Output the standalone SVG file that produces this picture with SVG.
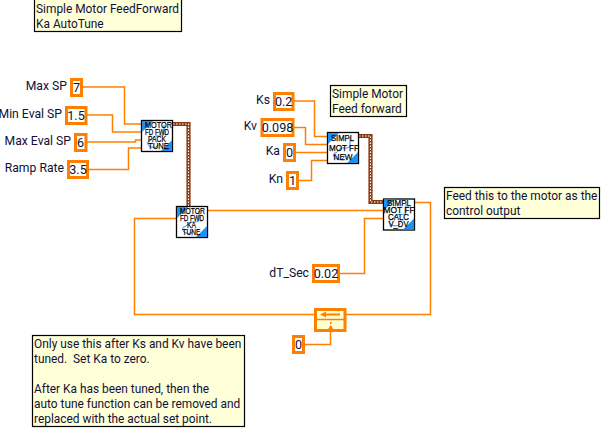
<svg xmlns="http://www.w3.org/2000/svg" width="613" height="430" viewBox="0 0 613 430">
<style>
text{font-family:Roboto,"Open Sans","Liberation Sans",sans-serif;font-size:11.9px;fill:#10103a}
.lbl{text-anchor:end;font-size:12.2px}
.val{text-anchor:middle;font-size:12.6px}
.c{fill:#fff;stroke:#ff8000;stroke-width:3}
.n{fill:#ffffd8;stroke:#000;stroke-width:1.2}
.w{fill:none;stroke:#ff8000;stroke-width:1.5}
.b1{fill:none;stroke:#8a3a10;stroke-width:4.2}
.b2{fill:none;stroke:#fff;stroke-width:1.2;stroke-dasharray:1.5 1.5}
.ic{fill:#fff;stroke:#000;stroke-width:1.3}
.cr{fill:#1e90f0}
.sq{fill:none;stroke:#1e90f0;stroke-width:1}
text.t{font-family:"Liberation Sans",sans-serif;font-size:9.6px;fill:#000;stroke:#000;stroke-width:.25}
</style>
<defs>
<g id="icon">
<rect class="ic" x="0.5" y="0.5" width="31" height="31"/>
<path class="cr" d="M1 1H12L1 12Z M31 31H20L31 20Z"/>
<path class="sq" d="M23 5V14C23 16 19 16 16 16C11 16 11 21 8 21C6 21 6 26 10 27C14 28 16 27 17 25"/>
</g>
</defs>
<g id="connectors">
<path class="w" d="M83 87H124.500V124H141"/>
<path class="w" d="M87 115H112.500V132H141"/>
<path class="w" d="M87 142H135.500V140H141"/>
<path class="w" d="M89 169.500H128.500V148H141"/>
<path class="w" d="M294 101H314.500V136.500H327"/>
<path class="w" d="M294 127.500H305.500V144.500H327"/>
<path class="w" d="M296 152.500H327"/>
<path class="w" d="M299 180.500H311.500V160.500H327"/>
<path class="w" d="M340 273.500H364.500V218.500H383"/>
<path class="w" d="M208 210.500H383"/>
<path class="w" d="M415 202.500H430.500V314.500H346"/>
<path class="w" d="M176 218.500H134.500V314.500H314"/>
<path class="w" d="M305 344.500H330.500V331"/>
<path class="b1" d="M173 124H188.500V206"/>
<path class="b2" d="M173 124H188.500V206"/>
<path class="b1" d="M359 136H370.500V202H383"/>
<path class="b2" d="M359 136H370.500V202H383"/>
</g>
<g id="note-title"><rect class="n" x="34.500" y="-2" width="147" height="33.500"/><text x="36" y="13">Simple Motor FeedForward</text><text x="36" y="28">Ka AutoTune</text></g>
<g id="note-ff"><rect class="n" x="330.500" y="85.500" width="76" height="31"/><text x="332" y="98">Simple Motor</text><text x="332" y="113">Feed forward</text></g>
<g id="note-output"><rect class="n" x="444.500" y="187.500" width="155" height="31"/><text x="446" y="200">Feed this to the motor as the</text><text x="446" y="215">control output</text></g>
<g id="note-usage"><rect class="n" x="32.500" y="335.500" width="212" height="91"/>
<text x="34" y="348">Only use this after Ks and Kv have been</text><text x="34" y="363" xml:space="preserve">tuned.  Set Ka to zero.</text><text x="34" y="393">After Ka has been tuned, then the</text><text x="34" y="408">auto tune function can be removed and</text><text x="34" y="423">replaced with the actual set point.</text></g>
<g id="c-maxsp"><text class="lbl" x="67" y="90">Max SP</text><rect class="c" x="71.500" y="79.500" width="10" height="16"/><text class="val" x="76.500" y="92">7</text></g>
<g id="c-minsp"><text class="lbl" x="62" y="118">Min Eval SP</text><rect class="c" x="66.500" y="107.500" width="19.500" height="16"/><text class="val" x="76" y="120">1.5</text></g>
<g id="c-maxeval"><text class="lbl" x="71" y="145">Max Eval SP</text><rect class="c" x="75.500" y="134.500" width="10.500" height="16"/><text class="val" x="80.500" y="147">6</text></g>
<g id="c-ramp"><text class="lbl" x="64" y="172">Ramp Rate</text><rect class="c" x="68.500" y="161.500" width="19" height="16"/><text class="val" x="78" y="174">3.5</text></g>
<g id="c-ks"><text class="lbl" x="270" y="104">Ks</text><rect class="c" x="274.500" y="93.500" width="18.500" height="16"/><text class="val" x="283.700" y="106">0.2</text></g>
<g id="c-kv"><text class="lbl" x="257" y="130">Kv</text><rect class="c" x="262" y="119.500" width="31" height="16"/><text class="val" x="277.500" y="132">0.098</text></g>
<g id="c-ka"><text class="lbl" x="280" y="155">Ka</text><rect class="c" x="284.500" y="144.500" width="10" height="16"/><text class="val" x="289.500" y="157">0</text></g>
<g id="c-kn"><text class="lbl" x="283" y="183">Kn</text><rect class="c" x="287.500" y="172.500" width="10" height="16"/><text class="val" x="292.500" y="185">1</text></g>
<g id="c-dt"><text class="lbl" x="309" y="277">dT_Sec</text><rect class="c" x="313.500" y="265.500" width="25" height="16"/><text class="val" x="326" y="278">0.02</text></g>
<g id="c-zero"><rect class="c" x="293.500" y="336.500" width="10" height="16"/><text class="val" x="298.500" y="349">0</text></g>
<g id="feedback">
<rect x="315.500" y="309.500" width="29.500" height="21" fill="#ffffd0" stroke="#ff8000" stroke-width="3"/>
<path d="M315 319.500H345" stroke="#ff8000" stroke-width="1.500"/>
<path d="M320 314.500L326 311.500V313.500H340V315.500H326V317.500Z" fill="#ff8000"/>
<path d="M330 322h1.500v2h-1.500z M330.700 325L334 330H327.500Z" fill="#ff8000"/>
</g>
<g id="icon-pack"><use href="#icon" x="141" y="120"/><text class="t" x="145" y="128" textLength="27" lengthAdjust="spacingAndGlyphs">MOTOR</text><text class="t" x="145" y="135" textLength="24" lengthAdjust="spacingAndGlyphs">FD FWD</text><text class="t" x="148" y="142" textLength="18" lengthAdjust="spacingAndGlyphs">PACK</text><text class="t" x="148" y="149" textLength="21" lengthAdjust="spacingAndGlyphs">TUNE</text></g>
<g id="icon-ka"><use href="#icon" x="176" y="206"/><text class="t" x="180" y="213.500" textLength="25" lengthAdjust="spacingAndGlyphs">MOTOR</text><text class="t" x="180" y="220.500" textLength="24" lengthAdjust="spacingAndGlyphs">FD FWD</text><text class="t" x="187" y="227.500" textLength="9" lengthAdjust="spacingAndGlyphs">KA</text><text class="t" x="182.500" y="234.500" textLength="18" lengthAdjust="spacingAndGlyphs">TUNE</text></g>
<g id="icon-new"><use href="#icon" x="327" y="132"/><text class="t" x="331" y="141" textLength="23" lengthAdjust="spacingAndGlyphs">SIMPL</text><text class="t" x="329" y="150.500" textLength="30" lengthAdjust="spacingAndGlyphs">MOT FF</text><text class="t" x="333.500" y="160" textLength="19" lengthAdjust="spacingAndGlyphs">NEW</text></g>
<g id="icon-calc"><use href="#icon" x="383" y="198.500"/><text class="t" x="387" y="206" textLength="24" lengthAdjust="spacingAndGlyphs">SIMPL</text><text class="t" x="383.500" y="212.800" textLength="31" lengthAdjust="spacingAndGlyphs">MOT FF</text><text class="t" x="388" y="219.500" textLength="21" lengthAdjust="spacingAndGlyphs">CALC</text><text class="t" x="388.500" y="226.700" textLength="20" lengthAdjust="spacingAndGlyphs">V_DV</text></g>
</svg>
